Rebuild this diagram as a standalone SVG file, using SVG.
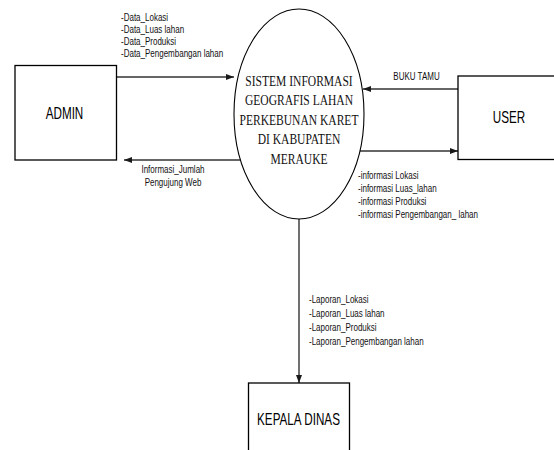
<svg xmlns="http://www.w3.org/2000/svg" width="554" height="450" viewBox="0 0 554 450">
<defs>
<marker id="arr" viewBox="0 0 8 6" refX="8" refY="3" markerWidth="8" markerHeight="6" markerUnits="userSpaceOnUse" orient="auto">
<path d="M0,0 L8,3 L0,6 Z" fill="#1a1a1a"/>
</marker>
<style>
.box{fill:#fff;stroke:#000;stroke-width:1.3}
.proc{fill:#fff;stroke:#000;stroke-width:1.1}
.conn{fill:none;stroke:#333;stroke-width:1.4;marker-end:url(#arr)}
.lbl{font-family:"Liberation Sans",Arial,sans-serif;font-size:10px;fill:#111}
.big{font-family:"Liberation Sans",Arial,sans-serif;font-size:16px;fill:#000;text-anchor:middle}
.serif{font-family:"Liberation Serif","Times New Roman",serif;font-size:15px;fill:#111;text-anchor:middle}
</style>
</defs>
<rect width="554" height="450" fill="#fff"/>
<g id="connectors">
<line class="conn" x1="116.5" y1="77" x2="234" y2="77"/>
<line class="conn" x1="241" y1="160" x2="124" y2="160"/>
<line class="conn" x1="458" y1="89" x2="363" y2="89"/>
<line class="conn" x1="360" y1="151" x2="458" y2="151"/>
<line class="conn" x1="299" y1="219" x2="299" y2="383"/>
<g transform="translate(121,0) scale(0.8,1)">
<text class="lbl" x="0" y="21">-Data_Lokasi</text>
<text class="lbl" x="0" y="33">-Data_Luas lahan</text>
<text class="lbl" x="0" y="45">-Data_Produksi</text>
<text class="lbl" x="0" y="57">-Data_Pengembangan lahan</text>
</g>
<g transform="translate(173,0) scale(0.8,1)">
<text class="lbl" x="0" y="173.5" text-anchor="middle">Informasi_Jumlah</text>
<text class="lbl" x="0" y="186.5" text-anchor="middle">Pengujung Web</text>
</g>
<g transform="translate(416.5,0) scale(0.8,1)">
<text class="lbl" x="0" y="80" text-anchor="middle">BUKU TAMU</text>
</g>
<g transform="translate(358,0) scale(0.8,1)">
<text class="lbl" x="0" y="179">-informasi Lokasi</text>
<text class="lbl" x="0" y="192">-informasi Luas_lahan</text>
<text class="lbl" x="0" y="205">-informasi Produksi</text>
<text class="lbl" x="0" y="218">-informasi Pengembangan_ lahan</text>
</g>
<g transform="translate(309,0) scale(0.8,1)">
<text class="lbl" x="0" y="303">-Laporan_Lokasi</text>
<text class="lbl" x="0" y="317">-Laporan_Luas lahan</text>
<text class="lbl" x="0" y="331">-Laporan_Produksi</text>
<text class="lbl" x="0" y="345">-Laporan_Pengembangan lahan</text>
</g>
</g>
<g id="admin">
<rect class="box" x="15" y="65.5" width="101.5" height="94.5"/>
<g transform="translate(64.5,0) scale(0.73,1)"><text class="big" x="0" y="119">ADMIN</text></g>
</g>
<g id="sistem">
<ellipse class="proc" cx="299" cy="114" rx="65" ry="105"/>
<g transform="translate(299,0) scale(0.77,1)">
<text class="serif" x="0" y="86">SISTEM INFORMASI</text>
<text class="serif" x="0" y="105.5">GEOGRAFIS LAHAN</text>
<text class="serif" x="0" y="125">PERKEBUNAN KARET</text>
<text class="serif" x="0" y="144.5">DI KABUPATEN</text>
<text class="serif" x="0" y="164">MERAUKE</text>
</g>
</g>
<g id="user">
<rect class="box" x="458" y="76" width="110" height="83.5"/>
<g transform="translate(509,0) scale(0.73,1)"><text class="big" x="0" y="123.5">USER</text></g>
</g>
<g id="kepala-dinas">
<rect class="box" x="248.5" y="383" width="101" height="80"/>
<g transform="translate(298.5,0) scale(0.73,1)"><text class="big" x="0" y="425.5">KEPALA DINAS</text></g>
</g>
</svg>
